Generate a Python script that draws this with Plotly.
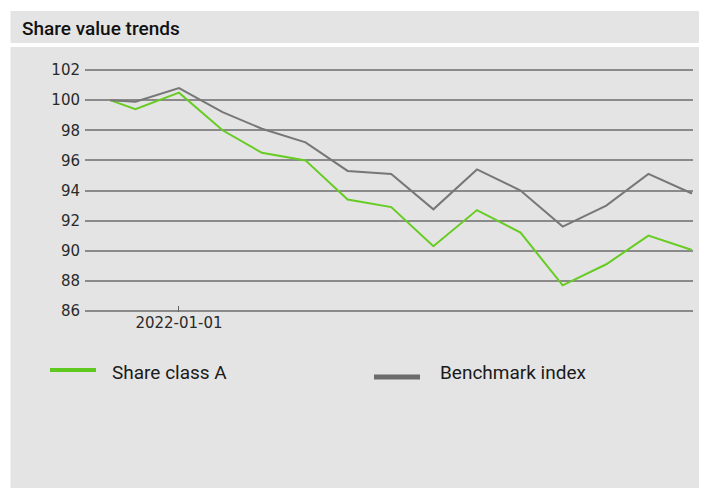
import plotly.graph_objects as go

dates = ["2021-11-13", "2021-12-01", "2022-01-01", "2022-02-01", "2022-03-01",
         "2022-04-01", "2022-05-01", "2022-06-01", "2022-07-01", "2022-08-01",
         "2022-09-01", "2022-10-01", "2022-11-01", "2022-12-01", "2023-01-01"]
share_class_a = [100.0, 99.4, 100.5, 98.0, 96.5, 96.0, 93.4, 92.9, 90.3, 92.7,
                 91.2, 87.7, 89.1, 91.0, 90.05]
benchmark = [100.0, 99.9, 100.8, 99.2, 98.1, 97.2, 95.3, 95.1, 92.75, 95.4,
             94.0, 91.6, 93.0, 95.1, 93.8]
y_ticks = [86, 88, 90, 92, 94, 96, 98, 100, 102]
x_ticks = ["2022-01-01"]
series_names = ["Share class A", "Benchmark index"]
series_colors = ["#66cc22", "#777777"]

W, H = 699, 480
ML, MR, MT, MB = 77, 14, 61, 176
PW, PH = W - ML - MR, H - MT - MB


def px(x):
    return (x - ML) / PW


def py(y):
    return (H - MB - y) / PH


fig = go.Figure()
fig.add_trace(go.Scatter(x=dates, y=share_class_a, mode="lines", name=series_names[0],
                         line=dict(color=series_colors[0], width=2), showlegend=False))
fig.add_trace(go.Scatter(x=dates, y=benchmark, mode="lines", name=series_names[1],
                         line=dict(color=series_colors[1], width=2), showlegend=False))

bg = "#e4e4e4"
shapes = [
    dict(type="rect", xref="paper", yref="paper", x0=px(0), x1=px(2.5), y0=py(H), y1=py(0),
         fillcolor="white", line=dict(width=0), layer="above"),
    dict(type="rect", xref="paper", yref="paper", x0=px(0), x1=px(W), y0=py(3), y1=py(0),
         fillcolor="white", line=dict(width=0), layer="above"),
    dict(type="rect", xref="paper", yref="paper", x0=px(0), x1=px(W), y0=py(39), y1=py(35),
         fillcolor="white", line=dict(width=0), layer="above"),
    dict(type="line", xref="paper", yref="paper", x0=px(42), x1=px(88), y0=py(362), y1=py(362),
         line=dict(color="#5ec81e", width=4)),
    dict(type="line", xref="paper", yref="paper", x0=px(366), x1=px(412), y0=py(369), y1=py(369),
         line=dict(color="#6b6b6b", width=5)),
]

annotations = [
    dict(text="Share value trends", xref="paper", yref="paper", x=px(12), y=py(20),
         xanchor="left", yanchor="middle", showarrow=False,
         font=dict(family="Roboto", size=19, color="#111111", weight=500)),
    dict(text=series_names[0], xref="paper", yref="paper", x=px(102), y=py(364),
         xanchor="left", yanchor="middle", showarrow=False,
         font=dict(family="Roboto", size=19, color="#1a1a1a")),
    dict(text=series_names[1], xref="paper", yref="paper", x=px(430), y=py(364),
         xanchor="left", yanchor="middle", showarrow=False,
         font=dict(family="Roboto", size=19, color="#1a1a1a")),
]

fig.update_layout(
    width=W, height=H,
    margin=dict(l=ML, r=MR, t=MT, b=MB, pad=0),
    paper_bgcolor=bg, plot_bgcolor=bg,
    showlegend=False,
    shapes=shapes, annotations=annotations,
    xaxis=dict(type="date", range=["2021-10-26 03:00", "2023-01-01 17:00"],
               tickvals=x_ticks, ticktext=x_ticks, ticks="inside", ticklen=6,
               tickcolor="#666666", tickwidth=1, showgrid=False, zeroline=False,
               showline=False,
               tickfont=dict(family="DejaVu Sans", size=15, color="#2a2a2a")),
    yaxis=dict(range=[85.93, 102.07], tickvals=y_ticks, ticks="", showgrid=True,
               gridcolor="#8a8a8a", gridwidth=2, zeroline=False, showline=False,
               ticklabelstandoff=4,
               tickfont=dict(family="DejaVu Sans", size=15, color="#2a2a2a")),
)

fig.write_html("out.html", config={"displayModeBar": False})
